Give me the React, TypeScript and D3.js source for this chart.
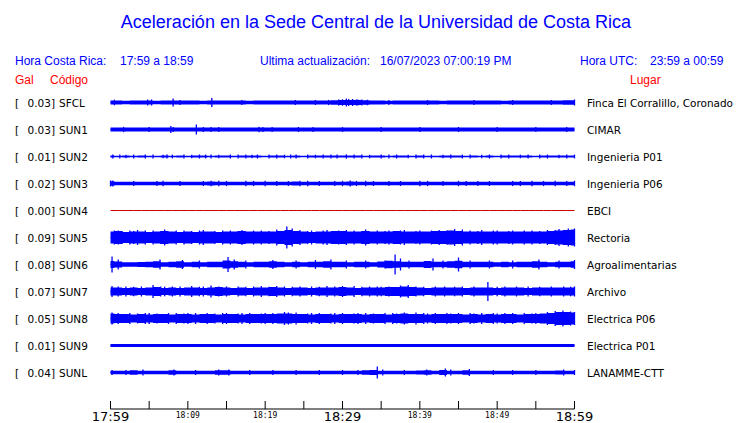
import React from 'react';
import * as d3 from 'd3';

const codes = ['SFCL', 'SUN1', 'SUN2', 'SUN3', 'SUN4', 'SUN5', 'SUN6', 'SUN7', 'SUN8', 'SUN9', 'SUNL'];
const peakGal = [0.03, 0.03, 0.01, 0.02, 0.0, 0.09, 0.08, 0.07, 0.05, 0.01, 0.04];
const places = [
  'Finca El Corralillo, Coronado', 'CIMAR', 'Ingenieria P01', 'Ingenieria P06', 'EBCI', 'Rectoria',
  'Agroalimentarias', 'Archivo', 'Electrica P06', 'Electrica P01', 'LANAMME-CTT',
];
const traceColors = ['#0000ff', '#0000ff', '#0000ff', '#0000ff', '#cc0000', '#0000ff', '#0000ff', '#0000ff', '#0000ff', '#0000ff', '#0000ff'];

const tickMinutes = [0, 5, 10, 15, 20, 25, 30, 35, 40, 45, 50, 55, 60];
const majorTicks: [number, string][] = [[0, '17:59'], [30, '18:29'], [60, '18:59']];
const minorTicks: [number, string][] = [[10, '18:09'], [20, '18:19'], [40, '18:39'], [50, '18:49']];

// envelope half-amplitude per minute (0..60), arbitrary counts
const envSFCL = [2, 2, 1.8, 2, 2, 2, 1.8, 2, 2, 2, 2, 2, 1.8, 2, 2, 2, 2, 2, 1.8, 2, 2, 2, 2, 2, 2, 2, 2, 2, 2, 2.3, 2.4, 2.5, 2.4, 2.3, 2, 2, 1.8, 2, 2, 2, 2, 2, 2, 1.8, 2, 2, 2, 2, 2, 2, 2, 1.8, 2, 2, 2, 2, 2, 2, 2, 2.2, 2.3];
const envSUN1 = [2, 1.9, 1.9, 2, 1.9, 1.9, 1.9, 2, 1.9, 1.9, 1.9, 2, 1.9, 1.9, 1.9, 1.9, 2, 1.9, 1.9, 1.9, 2, 1.9, 1.9, 1.9, 1.9, 2, 1.9, 1.9, 1.9, 1.9, 2, 1.9, 1.9, 1.9, 2, 1.9, 1.9, 1.9, 1.9, 2, 1.9, 1.9, 1.9, 1.9, 2, 1.9, 1.9, 1.9, 2, 1.9, 1.9, 1.9, 1.9, 2, 1.9, 1.9, 1.9, 2, 1.9, 1.9, 2];
const envSUN2 = [1.1, 0.8, 1, 0.8, 1.1, 0.8, 0.8, 1, 0.8, 1.1, 0.8, 1, 1.1, 0.8, 1, 1.1, 0.8, 1, 1.1, 1, 0.8, 1.1, 1, 0.8, 1, 0.8, 1.1, 1, 1.1, 1, 1.1, 1, 1.1, 0.8, 1.1, 1, 0.8, 1, 1.1, 0.8, 1, 0.8, 0.8, 1, 1.1, 1, 0.8, 1, 0.8, 1.1, 0.8, 1, 1.1, 1, 1.1, 0.8, 1, 1, 1.1, 1, 1];
const envSUN3 = [2.2, 1.8, 1.7, 1.7, 1.8, 1.7, 1.8, 1.7, 1.7, 1.8, 1.7, 1.7, 1.8, 1.9, 1.8, 1.7, 1.8, 1.7, 1.8, 1.7, 1.8, 1.7, 1.8, 1.7, 1.9, 1.8, 1.7, 1.8, 1.7, 1.8, 1.8, 2, 1.8, 1.7, 1.8, 1.7, 1.8, 1.7, 1.7, 1.8, 1.8, 1.7, 1.7, 1.8, 1.7, 1.8, 1.8, 1.7, 1.7, 1.8, 1.7, 1.7, 1.8, 1.8, 1.8, 1.7, 1.8, 1.8, 1.7, 1.8, 1.8];
const envSUN4 = [0, 0, 0, 0, 0, 0, 0, 0, 0, 0, 0, 0, 0, 0, 0, 0, 0, 0, 0, 0, 0, 0, 0, 0, 0, 0, 0, 0, 0, 0, 0, 0, 0, 0, 0, 0, 0, 0, 0, 0, 0, 0, 0, 0, 0, 0, 0, 0, 0, 0, 0, 0, 0, 0, 0, 0, 0, 0, 0, 0, 0];
const envSUN5 = [6, 6.5, 5.5, 6, 6, 5.5, 6, 6.5, 6, 5.5, 6, 5.5, 6, 6, 5.5, 6, 6, 6.5, 6, 6, 6, 6, 6.5, 7.5, 6.5, 6, 5.5, 6, 6, 6.5, 6.5, 6, 6, 6.5, 6, 6, 6, 6.5, 6, 6, 6, 6, 6.5, 6.5, 7, 6.5, 6, 6, 6, 6, 6, 6, 6, 6, 6, 6, 6, 6.5, 7, 7.5, 8];
const envSUN6 = [3.5, 3, 2.3, 2.3, 2.5, 2.8, 3.2, 2.3, 2.8, 3.2, 2.3, 2.8, 2.3, 2.8, 2.8, 4, 3.2, 2.8, 2.3, 2.8, 2.8, 3.2, 2.8, 2.3, 2.8, 2.3, 2.8, 2.8, 3.2, 2.8, 2.8, 2.3, 2.8, 2.8, 2.3, 3, 3.8, 3.2, 2.8, 2.8, 2.8, 3.5, 2.8, 2.8, 3.2, 3.8, 2.8, 2.8, 2.8, 2.8, 2.3, 2.8, 2.3, 2.8, 2.8, 3.2, 2.8, 2.3, 2.8, 2.8, 3.2];
const envSUN7 = [4, 4, 3.5, 4, 3.5, 4, 4.5, 3.5, 4, 3.5, 4, 4, 3.5, 4, 4.5, 4, 3.5, 4, 3.5, 4, 4, 4.5, 4, 3.5, 4, 4, 3.5, 4, 4, 4, 4.5, 4, 3.5, 4, 4, 4, 4.5, 4.5, 5, 4.5, 4, 3.5, 4, 4, 4, 4, 3.5, 4, 4, 4, 3.5, 4, 4, 4, 3.5, 4, 4, 4, 4, 4, 4];
const envSUN8 = [5, 4.5, 4.5, 4, 4.5, 4, 4.5, 4.5, 4, 4.5, 4.5, 4, 4.5, 4.5, 4, 4.5, 4.5, 4, 4.5, 4.5, 4.5, 4.5, 5, 5, 4.5, 4.5, 4, 4.5, 4.5, 4, 4.5, 4.5, 4.5, 4, 4.5, 4.5, 4, 4.5, 5, 4.5, 4.5, 4, 4.5, 4.5, 4.5, 4.5, 4, 4.5, 4, 4.5, 4, 4.5, 4.5, 4, 4.5, 4.5, 5, 5.5, 6.5, 6.5, 6];
const envSUN9 = [1.6, 1.6, 1.6, 1.6, 1.6, 1.6, 1.6, 1.6, 1.6, 1.6, 1.6, 1.6, 1.6, 1.6, 1.6, 1.6, 1.6, 1.6, 1.6, 1.6, 1.6, 1.6, 1.6, 1.6, 1.6, 1.6, 1.6, 1.6, 1.6, 1.6, 1.6, 1.6, 1.6, 1.6, 1.6, 1.6, 1.6, 1.6, 1.6, 1.6, 1.6, 1.6, 1.6, 1.6, 1.6, 1.6, 1.6, 1.6, 1.6, 1.6, 1.6, 1.6, 1.6, 1.6, 1.6, 1.6, 1.6, 1.6, 1.6, 1.6, 1.6];
const envSUNL = [1.8, 1.7, 1.7, 2.3, 1.7, 1.8, 1.7, 1.7, 2.2, 1.7, 1.7, 1.8, 1.7, 1.7, 2.2, 2.3, 1.7, 1.7, 1.8, 1.7, 1.7, 1.8, 1.7, 1.7, 1.8, 1.7, 1.7, 1.7, 1.8, 1.7, 1.7, 1.8, 1.7, 2.2, 2.5, 1.8, 1.7, 1.7, 1.8, 1.7, 2, 2.2, 1.7, 2.5, 1.8, 1.7, 2.3, 1.7, 1.7, 1.8, 1.7, 1.7, 1.8, 1.7, 1.7, 1.8, 1.7, 1.8, 2, 1.7, 1.8];

// spikes: [minute, half-amplitude]
const spkSFCL = [[0.5, 2.8], [4.8, 3], [5.3, 3], [8.1, 4], [9, 2.5], [13.1, 4.5], [17, 2.5], [23.9, 2.5], [26.5, 2.5], [28.2, 2.6], [29.5, 3], [30, 3.2], [30.5, 4], [30.8, 3.5], [31.3, 3.5], [31.8, 3], [32, 3], [32.5, 3], [33.2, 2.8], [36, 2.5], [41, 2.5], [47, 2.5], [52, 2.5], [57, 2.5], [60, 3]];
const spkSUN1 = [[1.7, 2.6], [5, 2.6], [7.8, 3.5], [8.1, 2.6], [11.1, 5], [12, 2.4], [13, 2.4], [14, 2.4], [19.2, 2.8], [19.7, 2.5], [20.9, 2.5], [24.3, 2.5], [26.2, 2.4], [30, 2.4], [35, 2.5], [40, 2.4], [45, 2.5], [50, 2.4], [55, 2.5], [59, 2.6]];
const spkSUN2 = [[0.3, 1.9], [1.2, 2], [2, 1.8], [3, 2], [4.5, 1.9], [5.5, 2], [6.8, 1.8], [7.3, 2], [8, 1.9], [9.5, 2], [10.5, 1.8], [11.5, 2], [12.3, 1.9], [13, 2], [14, 1.8], [15.5, 2], [16.5, 1.9], [17.5, 2], [18.3, 1.8], [19, 2], [20.5, 1.9], [21.5, 2], [22.5, 1.8], [23.3, 2], [24, 1.9], [25.5, 2], [26.5, 1.8], [27.5, 2], [28.5, 1.9], [29.3, 2], [30.5, 2.2], [31.5, 1.9], [32.5, 2], [33.5, 1.8], [35, 2], [36, 1.9], [37, 2], [38.5, 1.8], [39.5, 2], [40.5, 1.9], [41.5, 2], [43, 1.8], [44, 2], [45.5, 1.9], [46.5, 2], [48, 1.8], [49, 2], [50.5, 1.9], [51.5, 2], [53, 1.8], [54, 2], [55.5, 1.9], [56.5, 2], [58, 1.8], [59, 2], [60, 1.9]];
const spkSUN3 = [[0, 3], [0.3, 3], [3, 2.5], [6, 2.5], [6.8, 2.7], [9, 2.5], [12, 2.6], [13, 2.7], [14, 2.8], [15, 2.6], [17.5, 2.7], [18.5, 2.6], [20, 2.7], [21.5, 2.6], [23, 2.5], [24.5, 2.8], [25.5, 2.7], [27, 2.6], [29, 2.6], [30, 2.7], [31, 3], [31.8, 2.6], [33, 2.7], [34, 2.5], [36, 2.6], [37.5, 2.5], [40, 2.7], [41, 2.6], [43, 2.5], [45, 2.7], [46, 2.6], [47.5, 2.6], [49, 2.5], [52, 2.6], [53, 2.6], [54.5, 2.7], [56, 2.6], [57.5, 2.8], [59, 2.6], [60, 2.7]];
const spkSUN4: number[][] = [];
const spkSUN5 = [[0.5, 7], [1, 7], [1.5, 6.5], [2.5, 7], [3, 6.5], [3.5, 7.5], [4.5, 7], [5.5, 7], [6.5, 6.5], [7, 8], [8.5, 7], [9.5, 7], [10.5, 6.5], [11.5, 7], [12, 7.5], [13.5, 6.5], [14.5, 7], [15.5, 7], [16.5, 6.5], [17, 7.5], [18.5, 7], [19.5, 7], [20.5, 6.5], [21.5, 8], [22.8, 11], [23.5, 9], [24.5, 7.5], [25.5, 6.5], [26, 7], [27.5, 7], [28, 7.5], [29.5, 7], [30.5, 7.5], [31.5, 7], [32.5, 6.5], [33, 8], [34.5, 7], [35.5, 6.5], [36, 7], [37.5, 7], [38, 7.5], [39.5, 6.5], [40, 7], [41.5, 7], [42.5, 7.5], [43.5, 7], [44.5, 8.5], [45.5, 8], [46.5, 7], [47.5, 6.5], [48, 7.5], [49.5, 7], [50, 7], [51.5, 6.5], [52, 7], [53.5, 7], [54.5, 7], [55.5, 6.5], [56.5, 7.5], [57.5, 7.5], [58, 8.5], [59.2, 9], [60, 9]];
const spkSUN6 = [[0.2, 8], [1, 5], [6.4, 5], [9.3, 4.5], [11.5, 4], [15.2, 7.5], [16, 5], [17.5, 4], [21, 4.5], [24, 4], [26.5, 4.5], [28.5, 5], [30.5, 4], [33, 4], [35.5, 4], [36.8, 10], [37.5, 6], [38.6, 4], [41.7, 6], [43, 4], [45, 7], [46.5, 4], [49, 4], [52, 4], [55.4, 5], [58, 4], [60, 4.5]];
const spkSUN7 = [[0.2, 5.5], [1, 5], [2, 5], [3, 4.8], [4, 5], [5.5, 6.5], [6.5, 5], [7, 4.8], [8, 5], [9, 5], [10.5, 5.5], [11.5, 4.8], [12, 5], [13, 6], [14, 5], [15, 5], [16.5, 5], [17.5, 4.8], [18.5, 5], [19.5, 5.5], [20.5, 4.8], [21.5, 5.5], [22.5, 5], [23.5, 4.8], [24.5, 5], [26, 5], [27, 4.8], [28, 5.5], [29, 5], [30, 5.5], [31.5, 5.5], [32.5, 4.8], [33.5, 5], [34.5, 5], [35, 4.8], [36, 5], [37.5, 6], [38.5, 6.5], [39.5, 5], [40.5, 4.8], [42, 5], [43.2, 5], [44.5, 4.8], [45.5, 5], [47, 5], [48.8, 9.5], [50, 4.8], [51, 5], [52.5, 5], [54, 5], [55.5, 4.8], [57, 5], [58.6, 5], [59.5, 4.8], [60, 5]];
const spkSUN8 = [[0.2, 6], [1, 5.5], [2.5, 5.5], [3.5, 5], [4.5, 5.5], [5, 5.5], [6, 5], [7.5, 5.5], [8.5, 5.5], [9.5, 5], [10, 5.5], [11, 5.5], [12.5, 5.5], [13.5, 5], [14.5, 5.5], [15, 5.5], [16.5, 5], [17, 5.5], [18, 5.5], [19.5, 5], [20, 5.5], [21, 5.5], [22.5, 6.5], [23, 6], [24, 6], [25.5, 5], [26, 5.5], [27, 5.5], [28.5, 5], [29, 5.5], [30, 5.5], [31.5, 5], [32, 5.5], [33, 5.5], [34, 5], [35.5, 5.5], [36.5, 5.5], [37, 5], [38, 6], [39.5, 6], [40.5, 5.5], [41, 5], [42, 5.5], [43.5, 5.5], [44, 5], [45, 5.5], [46.5, 5.5], [47, 5], [48, 5.5], [49.5, 5.5], [50, 5], [51, 5.5], [52, 5.5], [53.5, 5.5], [54.5, 5], [55, 5.5], [56.5, 6.5], [57.5, 7.5], [58.5, 8], [59.5, 7], [60, 6.5]];
const spkSUN9: number[][] = [];
const spkSUNL = [[0.2, 2.5], [2, 2.5], [4.2, 3], [8.2, 3], [11, 2.5], [14, 3], [15.3, 3], [18, 2.5], [21, 2.5], [24, 2.5], [27, 2.5], [30, 2.5], [32, 2.5], [34.5, 6], [35.2, 3], [38, 2.5], [40.9, 3], [43.3, 4], [44, 3], [46.4, 3.5], [49.5, 2.5], [52, 2.5], [55, 2.5], [58.6, 3], [60, 2.5]];

const envelopes = [envSFCL, envSUN1, envSUN2, envSUN3, envSUN4, envSUN5, envSUN6, envSUN7, envSUN8, envSUN9, envSUNL];
const spikes = [spkSFCL, spkSUN1, spkSUN2, spkSUN3, spkSUN4, spkSUN5, spkSUN6, spkSUN7, spkSUN8, spkSUN9, spkSUNL];

const W = 740;
const H = 423;
const BLUE = '#0000ff';
const RED = '#ff0000';
const SANS = '"Liberation Sans", Arial, sans-serif';
const DJ = '"DejaVu Sans", sans-serif';

export default function App() {
  const x = d3.scaleLinear().domain([0, 60]).range([110.5, 574.5]);
  const yRow = d3.scalePoint<string>().domain(codes).range([102.5, 372.5]);
  const amp = d3.scaleLinear().domain([-12, 12]).range([12, -12]);

  const area = d3.area<number>()
    .x((_, i) => x(i))
    .y0((d) => amp(-d))
    .y1((d) => amp(d))
    .curve(d3.curveStep);
  const mid = d3.line<number>().x((_, i) => x(i)).y(() => amp(0));

  return (
    <svg width={W} height={H} style={{ position: 'absolute', left: 0, top: 0, background: '#fff' }}>
      <rect width={W} height={H} fill="#fff" />
      <text x={376} y={28} textAnchor="middle" fontFamily={SANS} fontSize={18} fill={BLUE}>
        Aceleración en la Sede Central de la Universidad de Costa Rica
      </text>
      <g fontFamily={SANS} fontSize={12} fill={BLUE}>
        <text x={15} y={65}>Hora Costa Rica:</text>
        <text x={120} y={65}>17:59 a 18:59</text>
        <text x={260} y={65}>Ultima actualización:</text>
        <text x={380} y={65}>16/07/2023 07:00:19 PM</text>
        <text x={580} y={65}>Hora UTC:</text>
        <text x={650} y={65}>23:59 a 00:59</text>
      </g>
      <g fontFamily={SANS} fontSize={12} fill={RED}>
        <text x={15} y={84}>Gal</text>
        <text x={50} y={84}>Código</text>
        <text x={630} y={84}>Lugar</text>
      </g>

      {codes.map((c, i) => {
        const cy = yRow(c) as number;
        return (
          <g key={c}>
            <g fontFamily={DJ} fontSize={10.5} fill="#000">
              <text x={15} y={cy + 4.5}>[</text>
              <text x={55} y={cy + 4.5} textAnchor="end">{peakGal[i].toFixed(2)}]</text>
              <text x={59} y={cy + 4.5}>{c}</text>
              <text x={587} y={cy + 4.5} textLength={i === 0 ? 146 : undefined} lengthAdjust="spacing">{places[i]}</text>
            </g>
            <g transform={`translate(0,${cy})`}>
              <path d={mid(envelopes[i]) || ''} stroke={traceColors[i]} strokeWidth={1} fill="none" />
              <path d={area(envelopes[i]) || ''} fill={traceColors[i]} />
              {spikes[i].map(([m, a], k) => (
                <line key={k} x1={x(m)} x2={x(m)} y1={amp(-a)} y2={amp(a)} stroke={traceColors[i]} strokeWidth={1.3} />
              ))}
            </g>
          </g>
        );
      })}

      <g>
        <line x1={x(0)} x2={x(60)} y1={409} y2={409} stroke="#000" strokeWidth={1} />
        {tickMinutes.map((m) => (
          <line key={m} x1={x(m)} x2={x(m)} y1={401} y2={409} stroke="#000" strokeWidth={1} />
        ))}
        {majorTicks.map(([m, l]) => (
          <text key={l} x={x(m)} y={421} textAnchor="middle" fontFamily={DJ} fontSize={13} fill="#000">{l}</text>
        ))}
        {minorTicks.map(([m, l]) => (
          <text key={l} x={x(m)} y={418} textAnchor="middle" fontFamily='"DejaVu Sans Mono", monospace' fontSize={8} fill="#000">{l}</text>
        ))}
      </g>
    </svg>
  );
}
